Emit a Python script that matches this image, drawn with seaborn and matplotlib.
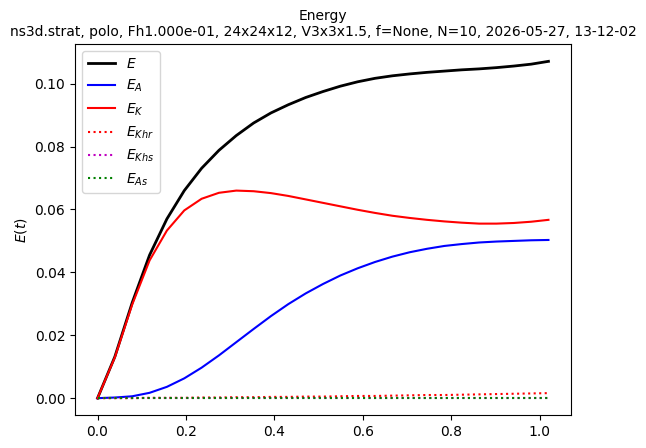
import matplotlib
matplotlib.use("Agg")
import matplotlib.pyplot as plt
import seaborn as sns
import numpy as np

t = [0.0, 0.0392, 0.0785, 0.1177, 0.1569, 0.1962, 0.2354, 0.2746, 0.3138, 0.3531,
     0.3923, 0.4315, 0.4708, 0.5100, 0.5492, 0.5885, 0.6277, 0.6669, 0.7062, 0.7454,
     0.7846, 0.8238, 0.8631, 0.9023, 0.9415, 0.9808, 1.0200]

E = [0.0, 0.0132, 0.0304, 0.0455, 0.0570, 0.0660, 0.0731, 0.0788, 0.0835, 0.0875,
     0.0907, 0.0933, 0.0956, 0.0975, 0.0992, 0.1006, 0.1017, 0.1025, 0.1031, 0.1036,
     0.1040, 0.1044, 0.1047, 0.1051, 0.1056, 0.1062, 0.1071]

E_A = [0.0, 0.0002, 0.0006, 0.0017, 0.0036, 0.0063, 0.0097, 0.0136, 0.0178, 0.0220,
       0.0261, 0.0299, 0.0333, 0.0363, 0.0390, 0.0413, 0.0433, 0.0450, 0.0464, 0.0475,
       0.0484, 0.0490, 0.0495, 0.0498, 0.0500, 0.0502, 0.0503]

E_K = [0.0, 0.0130, 0.0298, 0.0438, 0.0533, 0.0597, 0.0634, 0.0653, 0.0660, 0.0658,
       0.0652, 0.0643, 0.0632, 0.0621, 0.0610, 0.0599, 0.0589, 0.0580, 0.0573, 0.0567,
       0.0562, 0.0558, 0.0555, 0.0555, 0.0557, 0.0561, 0.0567]

E_Khr = [0.0, 0.0, 0.0, 0.0001, 0.0001, 0.0001, 0.0002, 0.0002, 0.0003, 0.0003,
         0.0004, 0.0004, 0.0005, 0.0005, 0.0006, 0.0007, 0.0007, 0.0008, 0.0009, 0.0010,
         0.0010, 0.0011, 0.0012, 0.0013, 0.0014, 0.0015, 0.0016]

E_Khs = [0.0, 0.0, 0.0, 0.0, 0.0, 0.0, 0.0, 0.0, 0.0, 0.0,
         0.0, 0.0, 0.0, 0.0, 0.0, 0.0, 0.0, 0.0, 0.0, 0.0,
         0.0, 0.0, 0.0, 0.0, 0.0, 0.0, 0.0]

E_As = [0.0, 0.0, 0.0, 0.0, 0.0, 0.0, 0.0, 0.0, 0.0, 0.0,
        0.0, 0.0, 0.0, 0.0, 0.0, 0.0, 0.0, 0.0, 0.0, 0.0,
        0.0, 0.0, 0.0, 0.0, 0.0, 0.0, 0.0]

title = ("Energy\nns3d.strat, polo, Fh1.000e-01, 24x24x12, V3x3x1.5, "
         "f=None, N=10, 2026-05-27, 13-12-02")

fig = plt.figure(figsize=(6.46, 4.48), dpi=100)
ax = fig.add_axes([75/646, 1 - 415/448, 496/646, 370.5/448])

sns.lineplot(x=t, y=E, ax=ax, color="k", linewidth=2, label="$E$")
sns.lineplot(x=t, y=E_A, ax=ax, color="b", linewidth=1.5, label="$E_A$")
sns.lineplot(x=t, y=E_K, ax=ax, color="r", linewidth=1.5, label="$E_K$")
sns.lineplot(x=t, y=E_Khr, ax=ax, color="r", linestyle=":", linewidth=1.5, label="$E_{Khr}$")
sns.lineplot(x=t, y=E_Khs, ax=ax, color="m", linestyle=":", linewidth=1.5, label="$E_{Khs}$")
sns.lineplot(x=t, y=E_As, ax=ax, color="g", linestyle=":", linewidth=1.5, label="$E_{As}$")

ax.set_ylabel("$E(t)$")
ax.set_xlabel("")
ax.set_title(title, fontsize=10)
ax.legend(loc="upper left")

fig.savefig("out.png", dpi=100)
